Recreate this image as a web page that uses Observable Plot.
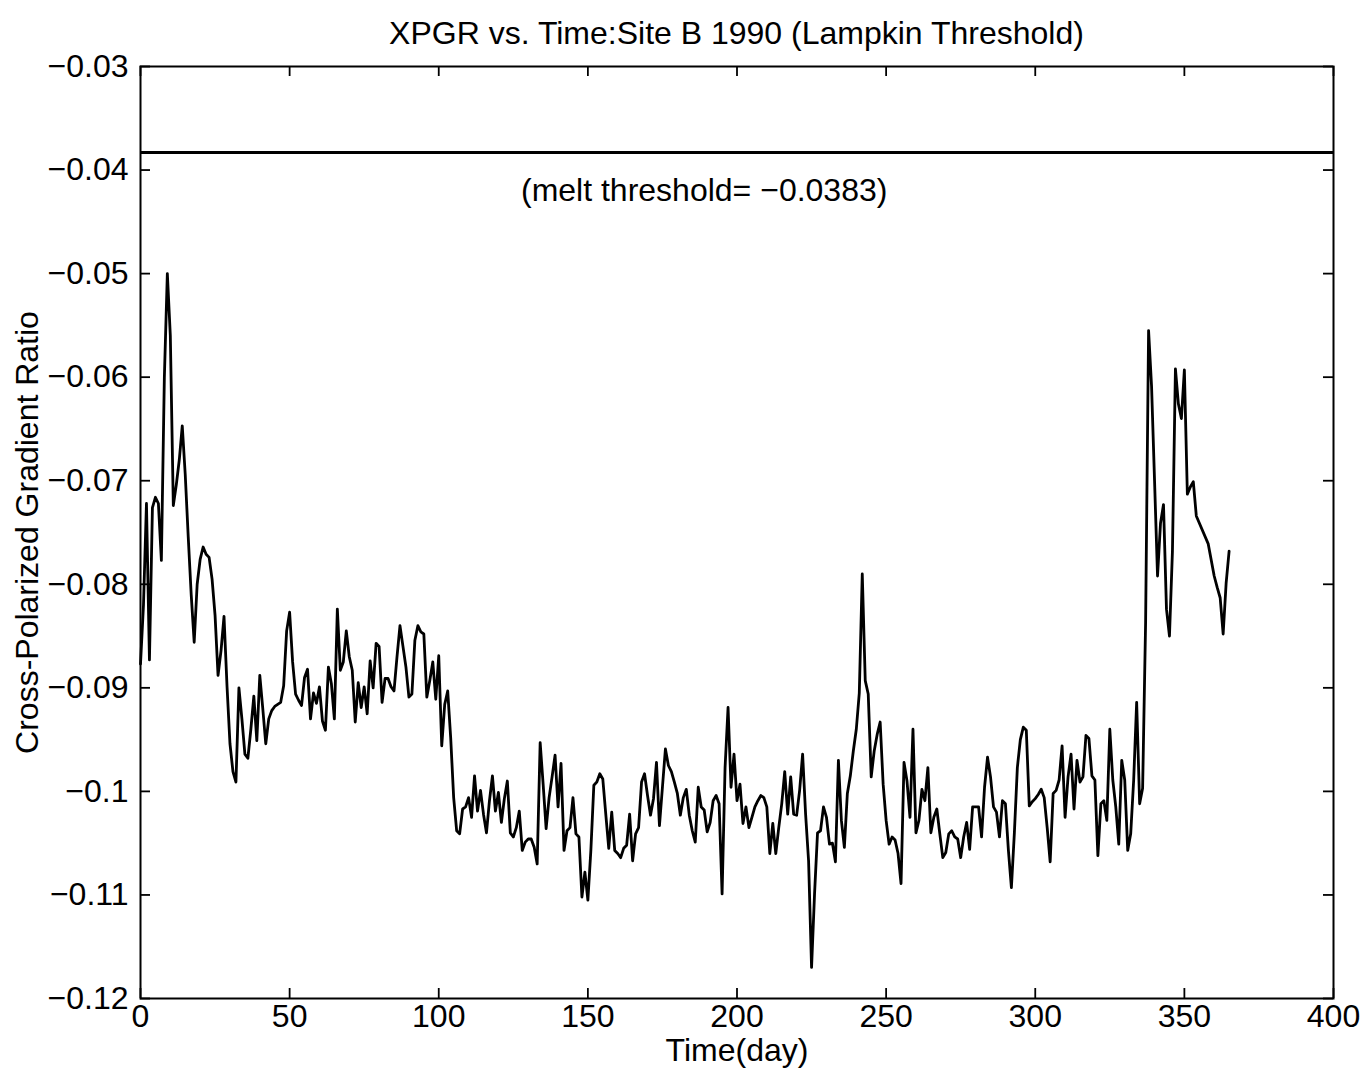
<!DOCTYPE html>
<html>
<head>
<meta charset="utf-8">
<script src="https://cdn.jsdelivr.net/npm/d3@7"></script>
<script src="https://cdn.jsdelivr.net/npm/@observablehq/plot@0.6"></script>
<style>
  body { margin: 0; background: #fff; font-family: "Liberation Sans", Arial, Helvetica, sans-serif; }
  #wrap { position: relative; width: 1363px; height: 1078px; }
  #title { position: absolute; left: 140px; width: 1193px; top: 14px; text-align: center; font-size: 32px; line-height: 38px; color: #000; }
  #chart { position: absolute; left: 0; top: 50px; }
  #chart svg { overflow: visible; }
</style>
</head>
<body>
<div id="wrap">
  <div id="title"></div>
  <div id="chart"></div>
</div>
<script>
const titleText = "XPGR vs. Time:Site B 1990 (Lampkin Threshold)";
const xLabel = "Time(day)";
const yLabel = "Cross-Polarized Gradient Ratio";
const thresholdValue = -0.0383;
const annotationText = "(melt threshold= \u22120.0383)";
const annotationDay = 189;
const annotationValue = -0.0420;
const xTicks = [0, 50, 100, 150, 200, 250, 300, 350, 400];
const yTicks = [-0.12, -0.11, -0.1, -0.09, -0.08, -0.07, -0.06, -0.05, -0.04, -0.03];

const days = [
  0,1,2,3,4,5,6,7,8,9,10,11,12,13,14,15,16,17,18,19,
  20,21,22,23,24,25,26,27,28,29,30,31,32,33,34,35,36,37,38,39,
  40,41,42,43,44,45,46,47,48,49,50,51,52,53,54,55,56,57,58,59,
  60,61,62,63,64,65,66,67,68,69,70,71,72,73,74,75,76,77,78,79,
  80,81,82,83,84,85,86,87,88,89,90,91,92,93,94,95,96,97,98,99,
  100,101,102,103,104,105,106,107,108,109,110,111,112,113,114,115,116,117,118,119,
  120,121,122,123,124,125,126,127,128,129,130,131,132,133,134,135,136,137,138,139,
  140,141,142,143,144,145,146,147,148,149,150,151,152,153,154,155,156,157,158,159,
  160,161,162,163,164,165,166,167,168,169,170,171,172,173,174,175,176,177,178,179,
  180,181,182,183,184,185,186,187,188,189,190,191,192,193,194,195,196,197,198,199,
  200,201,202,203,204,205,206,207,208,209,210,211,212,213,214,215,216,217,218,219,
  220,221,222,223,224,225,226,227,228,229,230,231,232,233,234,235,236,237,238,239,
  240,241,242,243,244,245,246,247,248,249,250,251,252,253,254,255,256,257,258,259,
  260,261,262,263,264,265,266,267,268,269,270,271,272,273,274,275,276,277,278,279,
  280,281,282,283,284,285,286,287,288,289,290,291,292,293,294,295,296,297,298,299,
  300,301,302,303,304,305,306,307,308,309,310,311,312,313,314,315,316,317,318,319,
  320,321,322,323,324,325,326,327,328,329,330,331,332,333,334,335,336,337,338,339,
  340,341,342,343,344,345,346,347,348,349,350,351,352,353,354,358,360,361,362,363,
  364,365
];

const xpgr = [
  -0.0877,-0.0820,-0.0722,-0.0873,-0.0726,-0.0716,-0.0722,-0.0777,-0.0600,-0.0500,
  -0.0560,-0.0724,-0.0704,-0.0680,-0.0647,-0.0694,-0.0754,-0.0810,-0.0856,-0.0800,
  -0.0776,-0.0764,-0.0771,-0.0774,-0.0795,-0.0830,-0.0888,-0.0864,-0.0831,-0.0898,
  -0.0954,-0.0981,-0.0991,-0.0900,-0.0930,-0.0964,-0.0968,-0.0940,-0.0908,-0.0951,
  -0.0888,-0.0920,-0.0954,-0.0930,-0.0922,-0.0918,-0.0916,-0.0914,-0.0898,-0.0845,
  -0.0827,-0.0875,-0.0906,-0.0912,-0.0917,-0.0890,-0.0882,-0.0930,-0.0905,-0.0915,
  -0.0899,-0.0932,-0.0941,-0.0880,-0.0896,-0.0930,-0.0824,-0.0883,-0.0875,-0.0845,
  -0.0870,-0.0883,-0.0933,-0.0895,-0.0919,-0.0899,-0.0925,-0.0874,-0.0900,-0.0857,
  -0.0860,-0.0914,-0.0891,-0.0891,-0.0899,-0.0903,-0.0870,-0.0840,-0.0860,-0.0880,
  -0.0909,-0.0906,-0.0854,-0.0840,-0.0846,-0.0848,-0.0909,-0.0893,-0.0875,-0.0911,
  -0.0869,-0.0956,-0.0916,-0.0903,-0.0948,-0.1006,-0.1038,-0.1041,-0.1017,-0.1015,
  -0.1006,-0.1025,-0.0985,-0.1019,-0.0999,-0.1022,-0.1040,-0.1009,-0.0985,-0.1019,
  -0.1001,-0.1030,-0.1007,-0.0990,-0.1040,-0.1044,-0.1035,-0.1019,-0.1057,-0.1049,
  -0.1046,-0.1046,-0.1054,-0.1070,-0.0953,-0.0993,-0.1036,-0.1006,-0.0986,-0.0965,
  -0.1015,-0.0973,-0.1057,-0.1038,-0.1035,-0.1006,-0.1041,-0.1044,-0.1102,-0.1078,
  -0.1105,-0.1057,-0.0994,-0.0991,-0.0983,-0.0988,-0.1022,-0.1055,-0.1020,-0.1057,
  -0.1060,-0.1064,-0.1055,-0.1052,-0.1022,-0.1067,-0.1041,-0.1035,-0.0991,-0.0983,
  -0.1004,-0.1023,-0.1007,-0.0972,-0.1033,-0.0996,-0.0959,-0.0975,-0.0981,-0.0991,
  -0.1002,-0.1023,-0.1006,-0.0998,-0.1023,-0.1038,-0.1049,-0.0996,-0.1015,-0.1018,
  -0.1039,-0.1030,-0.1009,-0.1004,-0.1012,-0.1099,-0.0977,-0.0919,-0.0996,-0.0964,
  -0.1009,-0.0993,-0.1031,-0.1015,-0.1035,-0.1025,-0.1015,-0.1009,-0.1004,-0.1006,
  -0.1015,-0.1060,-0.1031,-0.1060,-0.1035,-0.1012,-0.0981,-0.1022,-0.0986,-0.1022,
  -0.1023,-0.0999,-0.0964,-0.1022,-0.1067,-0.1170,-0.1099,-0.1040,-0.1038,-0.1015,
  -0.1025,-0.1051,-0.1050,-0.1068,-0.0970,-0.1028,-0.1054,-0.1002,-0.0985,-0.0961,
  -0.0940,-0.0905,-0.0790,-0.0893,-0.0906,-0.0986,-0.0961,-0.0945,-0.0933,-0.0993,
  -0.1028,-0.1051,-0.1044,-0.1047,-0.1060,-0.1089,-0.0972,-0.0990,-0.1025,-0.0940,
  -0.1040,-0.1028,-0.0998,-0.1009,-0.0977,-0.1040,-0.1025,-0.1017,-0.1041,-0.1064,
  -0.1059,-0.1041,-0.1038,-0.1044,-0.1046,-0.1064,-0.1044,-0.1030,-0.1056,-0.1015,
  -0.1015,-0.1015,-0.1044,-0.0996,-0.0967,-0.0986,-0.1015,-0.1020,-0.1044,-0.1009,
  -0.1012,-0.1057,-0.1093,-0.1040,-0.0977,-0.0950,-0.0938,-0.0941,-0.1014,-0.1010,
  -0.1007,-0.1003,-0.0998,-0.1006,-0.1035,-0.1068,-0.1002,-0.0999,-0.0989,-0.0956,
  -0.1025,-0.0986,-0.0964,-0.1017,-0.0970,-0.0991,-0.0986,-0.0946,-0.0949,-0.0985,
  -0.0989,-0.1062,-0.1012,-0.1009,-0.1028,-0.0940,-0.0989,-0.1015,-0.1051,-0.0970,
  -0.0989,-0.1057,-0.1041,-0.0989,-0.0914,-0.1012,-0.0997,-0.0837,-0.0555,-0.0609,
  -0.0700,-0.0792,-0.0741,-0.0723,-0.0824,-0.0850,-0.0768,-0.0592,-0.0626,-0.0640,
  -0.0593,-0.0713,-0.0706,-0.0701,-0.0734,-0.0761,-0.0792,-0.0803,-0.0813,-0.0848,
  -0.0799,-0.0768
];

const series = days.map((d, i) => ({day: d, value: xpgr[i]}));

document.getElementById("title").textContent = titleText;

const W = 1363, H = 1028;
const mL = 140, mR = 30, mT = 16, mB = 80;
const innerW = W - mL - mR;
const innerH = H - mT - mB;
const tickLen = 10;
const fontSize = 32;
const minusFmt = d => (d < 0 ? "\u2212" : "") + Math.abs(d);

const chart = Plot.plot({
  width: W,
  height: H,
  marginLeft: mL,
  marginRight: mR,
  marginTop: mT,
  marginBottom: mB,
  style: {fontFamily: '"Liberation Sans", Arial, Helvetica, sans-serif', fontSize: fontSize + "px", color: "#000", background: "transparent", overflow: "visible"},
  x: {domain: [0, 400], ticks: xTicks},
  y: {domain: [-0.12, -0.03], ticks: yTicks},
  marks: [
    Plot.line(series, {x: "day", y: "value", stroke: "#000", strokeWidth: 2.8, strokeLinejoin: "round"}),
    Plot.ruleY([thresholdValue], {stroke: "#000", strokeWidth: 3}),
    Plot.text([annotationText], {x: () => annotationDay, y: () => annotationValue, text: d => d, fontSize: fontSize, fill: "#000"}),
    // inward ticks on all four sides
    Plot.tickX(xTicks, {x: d => d, insetTop: innerH - tickLen, stroke: "#000", strokeWidth: 1.8}),
    Plot.tickX(xTicks, {x: d => d, insetBottom: innerH - tickLen, stroke: "#000", strokeWidth: 1.8}),
    Plot.tickY(yTicks, {y: d => d, insetRight: innerW - tickLen, stroke: "#000", strokeWidth: 1.8}),
    Plot.tickY(yTicks, {y: d => d, insetLeft: innerW - tickLen, stroke: "#000", strokeWidth: 1.8}),
    Plot.frame({stroke: "#000", strokeWidth: 2}),
    Plot.axisX(xTicks, {tickSize: 0, tickPadding: 6, fontSize: fontSize, label: null, tickFormat: d => String(d)}),
    Plot.axisY(yTicks, {tickSize: 0, tickPadding: 12, fontSize: fontSize, label: null, tickFormat: minusFmt}),
    Plot.text([xLabel], {frameAnchor: "bottom", dy: 62, text: d => d, fontSize: fontSize, fill: "#000"}),
    Plot.text([yLabel], {frameAnchor: "left", dx: -113, rotate: -90, textAnchor: "middle", text: d => d, fontSize: fontSize, fill: "#000"})
  ]
});

document.getElementById("chart").appendChild(chart);
</script>
</body>
</html>
